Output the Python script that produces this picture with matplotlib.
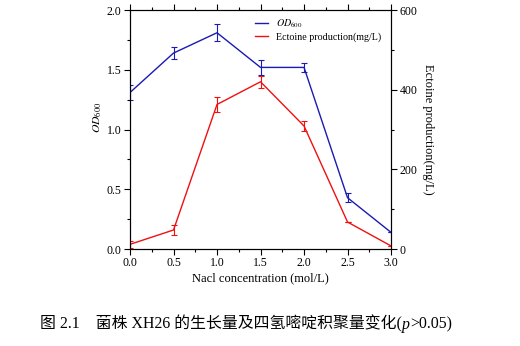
import numpy as np
import matplotlib.pyplot as plt
from matplotlib.ticker import MultipleLocator
from matplotlib.lines import Line2D

# NaCl concentration (mol/L)
nacl = [0.0, 0.5, 1.0, 1.5, 2.0, 2.5, 3.0]

# growth, OD600
od600 = [1.31, 1.64, 1.81, 1.52, 1.52, 0.43, 0.14]
od600_err = [0.06, 0.05, 0.07, 0.06, 0.04, 0.04, 0.0]

# ectoine production (mg/L)
ectoine = [12, 48, 363, 420, 309, 68, 8]
ectoine_err = [9, 12, 18, 15, 12, 0, 0]

plt.rcParams['font.family'] = ['Liberation Serif', 'Noto Sans CJK SC']
plt.rcParams['mathtext.fontset'] = 'stix'

blue = '#1a1ab4'
red = '#f01010'

fig = plt.figure(figsize=(5.2, 3.46), dpi=100)
ax = fig.add_axes([0.25, 0.280, 0.502, 0.691])
ax2 = ax.twinx()

ax.errorbar(nacl, od600, yerr=od600_err, color=blue, lw=1.0,
            elinewidth=0.8, capsize=2.5, capthick=0.8)
ax2.errorbar(nacl, ectoine, yerr=ectoine_err, color=red, lw=1.0,
             elinewidth=0.8, capsize=2.5, capthick=0.8)

ax.set_xlim(0, 3.0)
ax.set_ylim(0, 2.0)
ax2.set_ylim(0, 600)

ax.xaxis.set_major_locator(MultipleLocator(0.5))
ax.xaxis.set_minor_locator(MultipleLocator(0.25))
ax.yaxis.set_major_locator(MultipleLocator(0.5))
ax.yaxis.set_minor_locator(MultipleLocator(0.25))
ax2.yaxis.set_major_locator(MultipleLocator(200))
ax2.yaxis.set_minor_locator(MultipleLocator(100))
ax.xaxis.set_major_formatter(plt.FormatStrFormatter('%.1f'))
ax.yaxis.set_major_formatter(plt.FormatStrFormatter('%.1f'))

ax.tick_params(which='both', direction='out', top=True, labelsize=8.5, width=0.8, pad=2)
ax.tick_params(which='major', length=4)
ax.tick_params(which='minor', length=2.5)
ax2.tick_params(which='both', direction='out', labelsize=8.5, width=0.8, pad=2)
ax2.tick_params(which='major', length=4)
ax2.tick_params(which='minor', length=2.5)
for a in (ax, ax2):
    for s in a.spines.values():
        s.set_linewidth(0.8)

ax.set_xlabel('Nacl concentration (mol/L)', fontsize=9, labelpad=2)
ax.set_ylabel('$OD_{600}$', fontsize=8.5)
ax.yaxis.set_label_coords(-0.10, 0.55)
ax2.set_ylabel('Ectoine production(mg/L)', fontsize=9, rotation=270, labelpad=12)

handles = [Line2D([], [], color=blue, lw=1.0), Line2D([], [], color=red, lw=1.0)]
ax.legend(handles, ['$OD_{600}$', 'Ectoine production(mg/L)'],
          loc='upper left', bbox_to_anchor=(0.46, 0.99), frameon=False,
          fontsize=7.2, handlelength=1.3, borderpad=0, labelspacing=0.25,
          handletextpad=0.8)

# caption: CJK text with an italic p
cap_kw = dict(fontsize=11.4, va='baseline')
t1 = fig.text(0.077, 0.05, '图 2.1    菌株 XH26 的生长量及四氢嘧啶积聚量变化(', ha='left', **cap_kw)
t2 = fig.text(0, 0, 'p', style='italic', ha='left', **cap_kw)
t3 = fig.text(0, 0, '>0.05)', ha='left', **cap_kw)
fig.canvas.draw()
r = fig.canvas.get_renderer()
inv = fig.transFigure.inverted()
x1 = inv.transform((t1.get_window_extent(r).x1, 0))[0]
t2.set_position((x1, 0.05))
x2 = inv.transform((t2.get_window_extent(r).x1, 0))[0]
t3.set_position((x2, 0.05))

fig.savefig('out.png', dpi=100)
